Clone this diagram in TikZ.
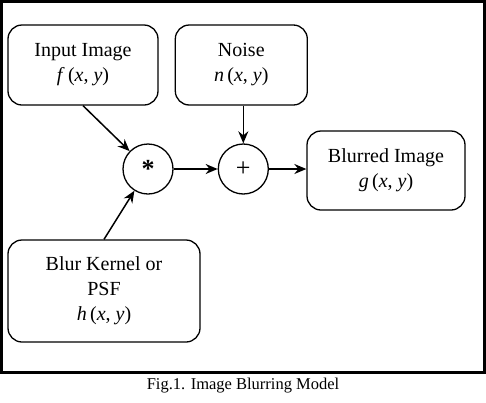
\documentclass[tikz,border=0pt]{standalone}
\usepackage{fontspec}
\setmainfont{Liberation Serif}
\usetikzlibrary{arrows.meta, positioning}

\newcommand{\fxy}[1]{\textit{#1}\,(\textit{x}, \textit{y})}

\begin{document}
\begin{tikzpicture}[
    x=1pt, y=-1pt,
    block/.style={rectangle, rounded corners=14pt, draw, line width=1.3pt, minimum width=#1, minimum height=80pt, align=center, font=\fontsize{20}{25}\selectfont, inner sep=2pt},
    op/.style={circle, draw, line width=1.3pt, minimum size=50pt, inner sep=0pt, font=\fontsize{26}{26}\selectfont},
    arr/.style={-{Stealth[length=12pt, width=10pt]}, line width=1.5pt},
]
    \useasboundingbox (0,0) rectangle (486,402);
    \draw[line width=3pt] (1.5,1.5) rectangle (484,372.5);

    \node[block=150pt] (input) at (83,65) {Input Image\\\fxy{f}};
    \node[block=132pt, right=16pt of input] (noise) {Noise\\\fxy{n}};
    \node[op] (conv) at (148,169) {\raisebox{-0.45em}{\textbf{*}}};
    \node[op, right=44pt of conv] (sum) {+};
    \node[block=158pt, minimum height=79pt] (blurred) at (386,170.5) {Blurred Image\\\fxy{g}};
    \node[block=192pt, minimum height=102pt] (kernel) at (104,291) {Blur Kernel or\\PSF\\\fxy{h}};

    \node[font=\fontsize{16.5}{20}\selectfont] (caption) at (243,386) {Fig.1. Image Blurring Model};

    \draw[arr] (input.south) -- (conv);
    \draw[arr] (kernel.north) -- (conv);
    \draw[arr] (conv) -- (sum);
    \draw[arr] (sum |- noise.south) -- (sum);
    \draw[arr] (sum) -- (sum -| blurred.west);
\end{tikzpicture}
\end{document}
